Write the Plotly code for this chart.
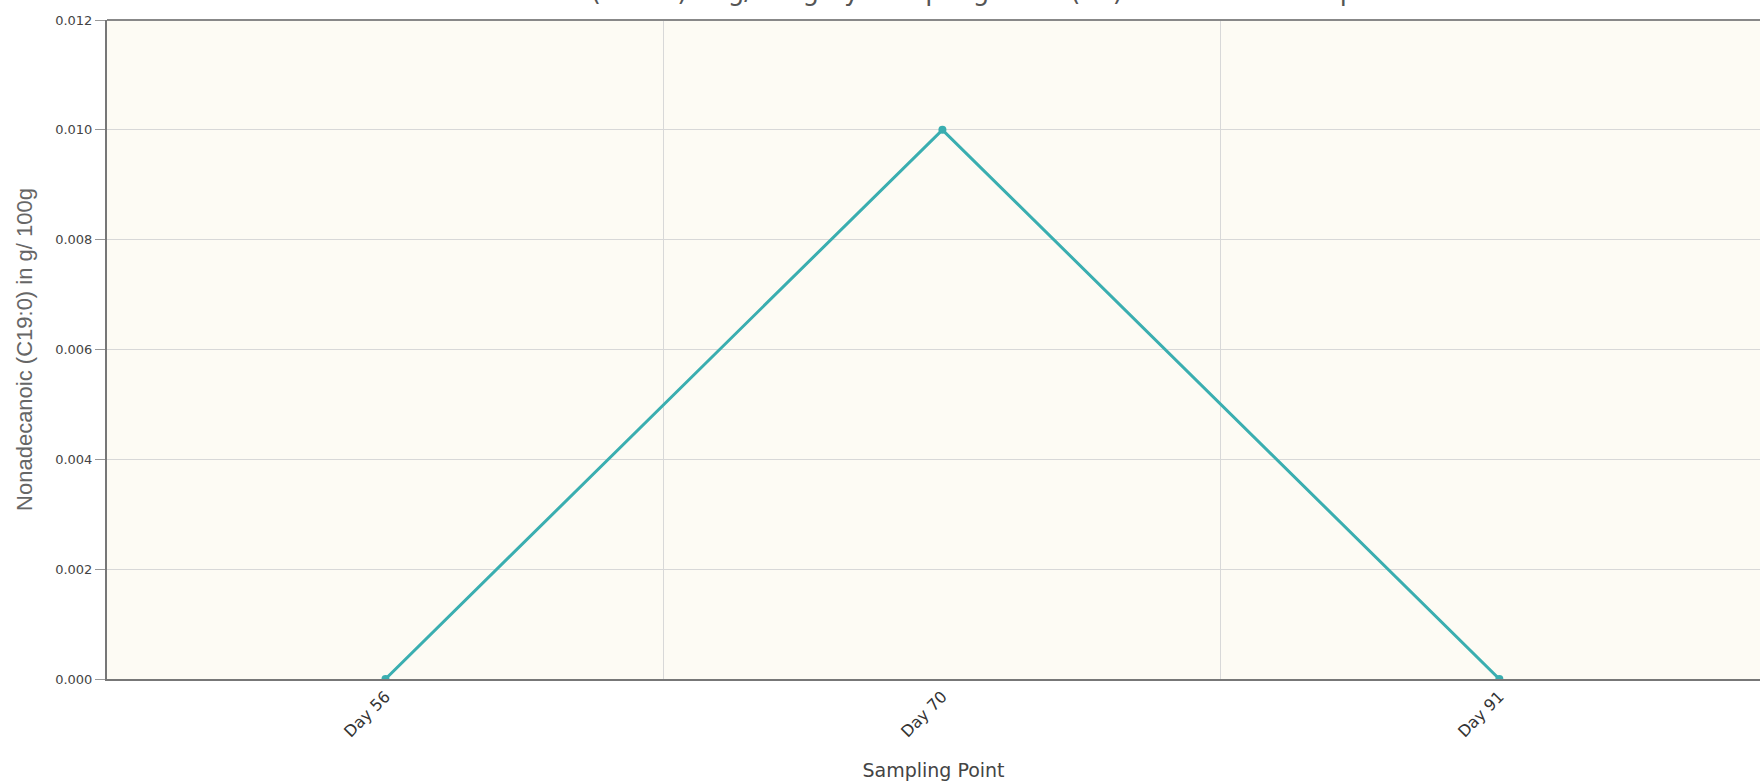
import plotly.graph_objects as go

categories = ["Day 56", "Day 70", "Day 91"]
values = [0.0, 0.010, 0.0]
y_ticks = [0.000, 0.002, 0.004, 0.006, 0.008, 0.010, 0.012]
title_text = "Nonadecanoic (C19:0) in g/100g by Sampling Point (SP) for Product Samples"

fig = go.Figure()
fig.add_trace(go.Scatter(
    x=categories, y=values, mode="lines+markers",
    line=dict(color="#3aaeb0", width=3),
    marker=dict(color="#3aaeb0", size=8),
    showlegend=False,
))

fig.update_layout(
    width=1760, height=784,
    margin=dict(l=107, r=0, t=20, b=105),
    paper_bgcolor="white",
    plot_bgcolor="#fdfbf4",
    font=dict(family="DejaVu Sans", color="#444"),
    xaxis=dict(
        type="category", range=[-0.5, 2.468], tickson="boundaries",
        showgrid=True, gridcolor="#d8d8d8", gridwidth=1,
        showline=True, linecolor="#777", linewidth=2,
        tickangle=-45, tickfont=dict(size=16, color="#333"),
        ticks="outside", ticklen=12, tickcolor="rgba(0,0,0,0)",
        title=dict(text="Sampling Point", font=dict(family="DejaVu Sans", size=19, color="#444"), standoff=24),
    ),
    yaxis=dict(
        range=[0, 0.012], tickvals=y_ticks, tickformat=".3f",
        showgrid=True, gridcolor="#d8d8d8", gridwidth=1,
        showline=True, linecolor="#777", linewidth=2, mirror=False,
        ticks="outside", ticklen=10, tickcolor="#999",
        tickfont=dict(size=13, color="#444"),
        zeroline=False,
        title=dict(text="Nonadecanoic (C19:0) in g/ 100g", font=dict(family="Liberation Sans", size=22, color="#666"), standoff=16),
    ),
    shapes=[dict(type="line", xref="paper", yref="paper", x0=0, x1=1, y0=1, y1=1,
                 line=dict(color="#888", width=2))],
    annotations=[dict(text=title_text, xref="paper", yref="paper", x=0.477, y=1.0175,
                      xanchor="center", yanchor="bottom", showarrow=False,
                      font=dict(size=26, color="#555"))],
)

fig.write_html("out.html", config={"displayModeBar": False},
               post_script="document.body.style.margin='0';document.body.style.overflow='hidden';")
